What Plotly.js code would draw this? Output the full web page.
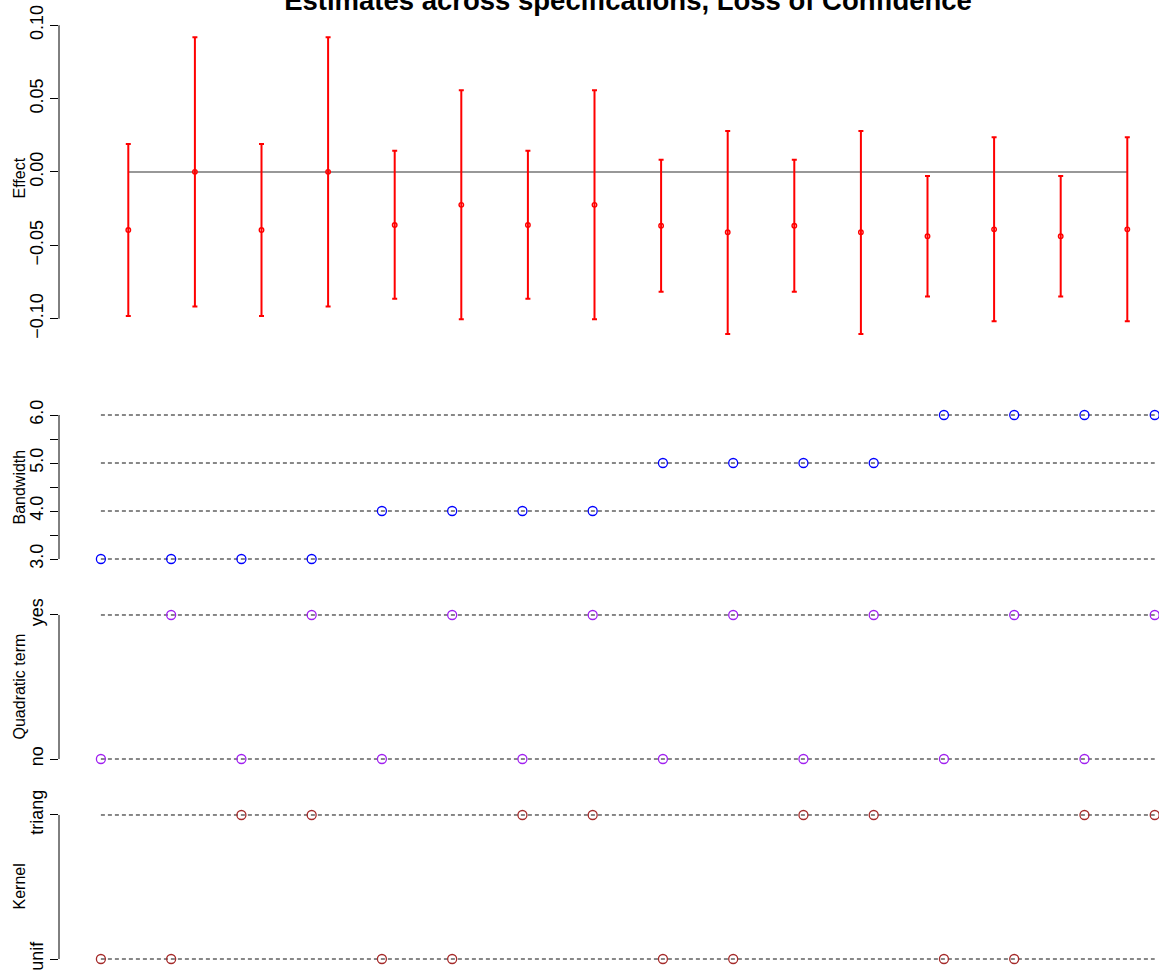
<!DOCTYPE html>
<html>
<head>
<meta charset="utf-8">
<script src="https://cdn.plot.ly/plotly-3.0.1.min.js"></script>
<style>
  html, body { margin: 0; padding: 0; background: #fff; }
  #chart { width: 1159px; height: 973px; }
</style>
</head>
<body>
<div id="chart"></div>
<script>
// Specification index (one column per model specification)
const specIndex = [1, 2, 3, 4, 5, 6, 7, 8, 9, 10, 11, 12, 13, 14, 15, 16];

// Point estimates and confidence bounds for each specification
const estimate = [-0.0395, 0.0001, -0.0395, 0.0001, -0.0361, -0.0224, -0.0361, -0.0224,
                  -0.0366, -0.0411, -0.0366, -0.0411, -0.0438, -0.0391, -0.0438, -0.0391];
const upper    = [0.0191, 0.0918, 0.0191, 0.0918, 0.0145, 0.0557, 0.0145, 0.0557,
                  0.0084, 0.0280, 0.0084, 0.0280, -0.0027, 0.0236, -0.0027, 0.0236];
const lower    = [-0.0982, -0.0916, -0.0982, -0.0916, -0.0864, -0.1004, -0.0864, -0.1004,
                  -0.0816, -0.1104, -0.0816, -0.1104, -0.0848, -0.1018, -0.0848, -0.1018];

// Specification choices
const bandwidth = [3, 3, 3, 3, 4, 4, 4, 4, 5, 5, 5, 5, 6, 6, 6, 6];
const quadratic = ['no', 'yes', 'no', 'yes', 'no', 'yes', 'no', 'yes',
                   'no', 'yes', 'no', 'yes', 'no', 'yes', 'no', 'yes'];
const kernel    = ['unif', 'unif', 'triang', 'triang', 'unif', 'unif', 'triang', 'triang',
                   'unif', 'unif', 'triang', 'triang', 'unif', 'unif', 'triang', 'triang'];

// Axis ticks and levels
const effectTicks = [-0.10, -0.05, 0.00, 0.05, 0.10];
const effectTickLabels = ['\u22120.10', '\u22120.05', '0.00', '0.05', '0.10'];
const bwTicks = [3, 3.5, 4, 4.5, 5, 5.5, 6];
const bwTickLabels = ['3.0', '', '4.0', '', '5.0', '', '6.0'];
const bwLevels = [3, 4, 5, 6];
const quadLevels = ['no', 'yes'];
const kernelLevels = ['unif', 'triang'];

const FONT = 'Liberation Sans, Arial, Helvetica, sans-serif';
const first = specIndex[0];
const last = specIndex[specIndex.length - 1];

const traces = [];

// Reference line at zero effect
traces.push({
  type: 'scatter', mode: 'lines', xaxis: 'x', yaxis: 'y',
  x: [first, last], y: [0, 0],
  line: { color: '#333', width: 1.2 }, hoverinfo: 'skip'
});

// Estimates with confidence intervals
traces.push({
  type: 'scatter', mode: 'markers', xaxis: 'x', yaxis: 'y',
  x: specIndex, y: estimate,
  marker: { symbol: 'circle-open', size: 4.5, color: '#FF0000', line: { width: 1.4, color: '#FF0000' } },
  error_y: {
    type: 'data', symmetric: false,
    array: upper.map((u, i) => u - estimate[i]),
    arrayminus: lower.map((l, i) => estimate[i] - l),
    color: '#FF0000', thickness: 2, width: 2.5
  },
  cliponaxis: false
});

// Dashed guide lines for every level of each choice
function guides(levels, yaxis) {
  levels.forEach(lv => traces.push({
    type: 'scatter', mode: 'lines', xaxis: 'x2', yaxis: yaxis,
    x: [first, last], y: [lv, lv],
    line: { color: '#111', width: 1, dash: '4px,3px' }, hoverinfo: 'skip'
  }));
}
function choice(values, yaxis, color) {
  traces.push({
    type: 'scatter', mode: 'markers', xaxis: 'x2', yaxis: yaxis,
    x: specIndex, y: values,
    marker: { symbol: 'circle-open', size: 9, color: color, line: { width: 1.3, color: color } },
    cliponaxis: false
  });
}
guides(bwLevels, 'y2');      choice(bandwidth, 'y2', '#0000FF');
guides(quadLevels, 'y3');    choice(quadratic, 'y3', '#A020F0');
guides(kernelLevels, 'y4');  choice(kernel, 'y4', '#A52A2A');

const H = 973;
const dom = (topPx, botPx) => [1 - botPx / H, 1 - topPx / H];

const yBase = {
  showgrid: false, zeroline: false, showline: false,
  ticks: 'outside', ticklen: 8, tickwidth: 1, tickcolor: '#000',
  tickangle: -90, tickfont: { family: FONT, size: 18, color: '#000' },
  fixedrange: true
};

const layout = {
  width: 1159, height: 973,
  margin: { l: 59, r: 0, t: 0, b: 0 },
  paper_bgcolor: '#fff', plot_bgcolor: '#fff',
  showlegend: false,
  title: {
    text: 'Estimates across specifications, Loss of Confidence',
    font: { family: FONT, size: 27.5, color: '#000', weight: 'bold' },
    xref: 'container', x: 628 / 1159, xanchor: 'center',
    yref: 'container', y: 1 - 9.5 / H, yanchor: 'bottom'
  },
  xaxis:  { domain: [0, 1], range: [-0.0405, 16.476], visible: false, fixedrange: true },
  xaxis2: { domain: [0, 1], range: [0.4036, 16.061], visible: false, fixedrange: true },
  yaxis: Object.assign({}, yBase, {
    anchor: 'x', domain: dom(10, 346), range: [-0.1186, 0.1104],
    tickvals: effectTicks, ticktext: effectTickLabels
  }),
  yaxis2: Object.assign({}, yBase, {
    anchor: 'x2', domain: dom(405, 569), range: [2.7917, 6.2083],
    tickvals: bwTicks, ticktext: bwTickLabels
  }),
  yaxis3: Object.assign({}, yBase, {
    anchor: 'x2', domain: dom(605, 769), range: [-0.0694, 1.0694],
    type: 'category', categoryorder: 'array', categoryarray: quadLevels
  }),
  yaxis4: Object.assign({}, yBase, {
    anchor: 'x2', domain: dom(805, 969), range: [-0.0694, 1.0694],
    type: 'category', categoryorder: 'array', categoryarray: kernelLevels
  }),
  shapes: [
    // axis spines spanning the first to last tick
    { type: 'line', xref: 'paper', yref: 'y', x0: 0, x1: 0,
      y0: effectTicks[0], y1: effectTicks[effectTicks.length - 1], line: { color: '#000', width: 1 } },
    { type: 'line', xref: 'paper', yref: 'y2', x0: 0, x1: 0,
      y0: bwTicks[0], y1: bwTicks[bwTicks.length - 1], line: { color: '#000', width: 1 } },
    { type: 'line', xref: 'paper', yref: 'y3', x0: 0, x1: 0,
      y0: quadLevels[0], y1: quadLevels[quadLevels.length - 1], line: { color: '#000', width: 1 } },
    { type: 'line', xref: 'paper', yref: 'y4', x0: 0, x1: 0,
      y0: kernelLevels[0], y1: kernelLevels[kernelLevels.length - 1], line: { color: '#000', width: 1 } }
  ],
  annotations: [
    ['Effect', 'y domain'], ['Bandwidth', 'y2 domain'],
    ['Quadratic term', 'y3 domain'], ['Kernel', 'y4 domain']
  ].map(([txt, ref]) => ({
    text: txt, xref: 'paper', yref: ref, x: (18.5 - 59) / 1100, y: 0.5,
    xanchor: 'center', yanchor: 'middle', textangle: -90, showarrow: false,
    font: { family: FONT, size: 16, color: '#000' }
  }))
};

Plotly.newPlot('chart', traces, layout, { staticPlot: true, displayModeBar: false });
</script>
</body>
</html>
